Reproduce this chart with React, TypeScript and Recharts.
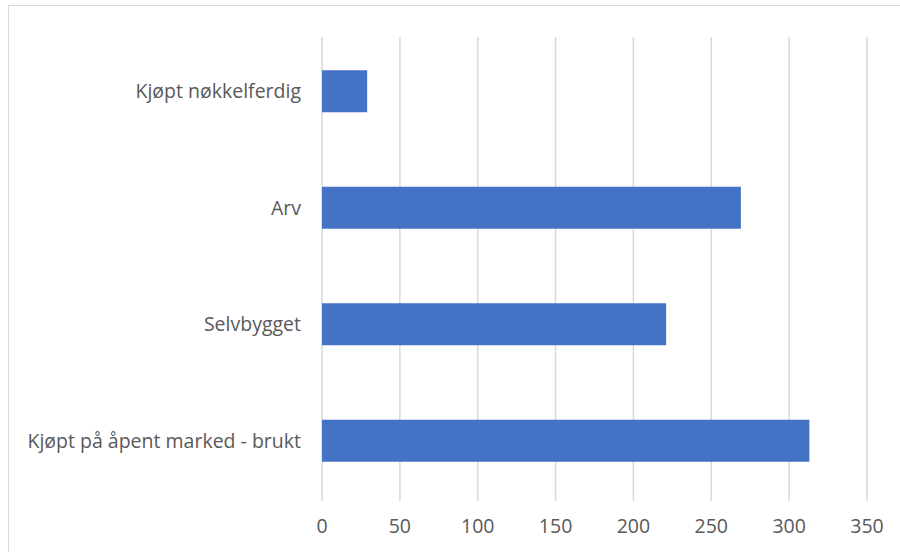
import { BarChart, Bar, XAxis, YAxis, CartesianGrid } from 'recharts';

const categories = [
  'Kjøpt nøkkelferdig',
  'Arv',
  'Selvbygget',
  'Kjøpt på åpent marked - brukt',
];
const values = [29, 269, 221, 313];
const xTicks = [0, 50, 100, 150, 200, 250, 300, 350];

const data = categories.map((name, i) => ({ name, value: values[i] }));

const FONT = '"Open Sans", sans-serif';
const TEXT = '#595959';

export default function App() {
  return (
    <div
      style={{
        position: 'fixed',
        left: 0,
        top: 0,
        width: 900,
        height: 552,
        overflow: 'hidden',
        background: '#fff',
      }}
    >
      {/* chart frame, runs off the right and bottom edges */}
      <div
        style={{
          position: 'absolute',
          left: 8,
          top: 5,
          width: 1000,
          height: 1000,
          border: '1.5px solid #d9d9d9',
        }}
      />
      <div style={{ position: 'absolute', left: 0, top: 0 }}>
        <BarChart
          width={900}
          height={552}
          data={data}
          layout="vertical"
          margin={{ top: 33, right: 33, bottom: 0, left: 0 }}
          barCategoryGap="32%"
        >
          <CartesianGrid horizontal={false} stroke="#d9d9d9" strokeWidth={1.5} y={37} height={464} />
          <XAxis
            type="number"
            domain={[0, 350]}
            ticks={xTicks}
            axisLine={false}
            tickLine={false}
            tickSize={0}
            tickMargin={20}
            height={53}
            interval={0}
            tick={{ fill: TEXT, fontSize: 19.5, fontFamily: FONT }}
          />
          <YAxis
            type="category"
            dataKey="name"
            width={322}
            axisLine={false}
            tickLine={false}
            tickSize={0}
            tickMargin={21}
            interval={0}
            tick={{ fill: TEXT, fontSize: 19.5, fontFamily: FONT }}
          />
          <Bar dataKey="value" fill="#4472c4" isAnimationActive={false} />
        </BarChart>
      </div>
    </div>
  );
}
